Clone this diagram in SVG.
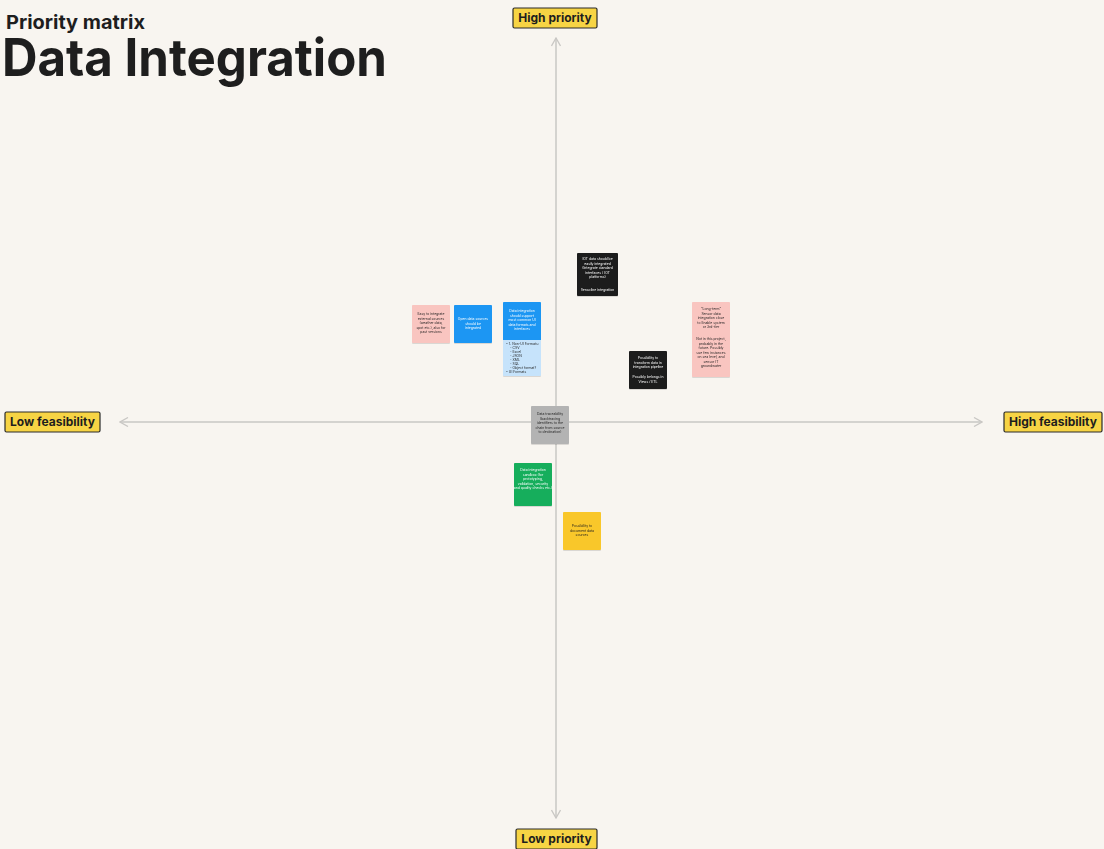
<svg xmlns="http://www.w3.org/2000/svg" width="1104" height="849" viewBox="0 0 1104 849">
<defs>
<style>
.axis{stroke:#c9c7c4;stroke-width:1.5;fill:none}
.lbl rect{fill:#f7d444;stroke:#2a2a2a;stroke-width:1.2}
.lbl text{font-family:Inter,"Liberation Sans",sans-serif;font-weight:700;font-size:12px;fill:#1e1e1e;text-anchor:middle}
.note text{font-family:Inter,"Liberation Sans",sans-serif;font-size:3.4px;text-anchor:middle}
.note text.l{text-anchor:start}
.dk text{fill:#1e1e1e}
.lt text{fill:#ffffff}
</style>
<marker id="arr" viewBox="0 0 10 10" refX="9" refY="5" markerWidth="10" markerHeight="10" markerUnits="userSpaceOnUse" orient="auto-start-reverse">
<path d="M1,0.5 L9,5 L1,9.5" fill="none" stroke="#c9c7c4" stroke-width="1.3"/>
</marker>
<filter id="sh" x="-10%" y="-10%" width="130%" height="140%"><feDropShadow dx="0" dy="0.6" stdDeviation="0.6" flood-opacity="0.2"/></filter>
</defs>
<rect width="1104" height="849" fill="#f8f5f0"/>
<g id="title">
<text x="6" y="29" font-family="Inter,'Liberation Sans',sans-serif" font-weight="700" font-size="19" fill="#1e1e1e" textLength="139" lengthAdjust="spacingAndGlyphs">Priority matrix</text>
<text x="2" y="76" font-family="Inter,'Liberation Sans',sans-serif" font-weight="700" font-size="52" fill="#1e1e1e" textLength="385" lengthAdjust="spacingAndGlyphs">Data Integration</text>
</g>
<g id="connectors">
<line class="axis" x1="556" y1="818" x2="556" y2="38" marker-start="url(#arr)" marker-end="url(#arr)"/>
<line class="axis" x1="120" y1="422" x2="982" y2="422" marker-start="url(#arr)" marker-end="url(#arr)"/>
</g>
<g id="label-high-priority" class="lbl"><rect x="513" y="8" width="84" height="20" rx="1.5"/><text x="555" y="22.3">High priority</text></g>
<g id="label-low-priority" class="lbl"><rect x="516" y="829" width="81" height="20" rx="1.5"/><text x="556.5" y="843.3">Low priority</text></g>
<g id="label-low-feasibility" class="lbl"><rect x="5" y="412" width="95" height="20" rx="1.5"/><text x="52.5" y="426.3">Low feasibility</text></g>
<g id="label-high-feasibility" class="lbl"><rect x="1004" y="412" width="98" height="20" rx="1.5"/><text x="1053" y="426.3">High feasibility</text></g>

<g id="note-external-sources" class="note dk" filter="url(#sh)">
<rect x="412" y="305" width="38" height="38" rx="1" fill="#f9c5c0"/>
<text x="431" y="315">Easy to integrate</text><text x="431" y="319.5">external sources</text><text x="431" y="324">(weather data,</text><text x="431" y="328.5">spot etc.), also for</text><text x="431" y="333">past versions</text>
</g>
<g id="note-open-data" class="note lt" filter="url(#sh)">
<rect x="454" y="305" width="38" height="38" rx="1" fill="#1b96f3"/>
<text x="473" y="320">Open data sources</text><text x="473" y="324.5">should be</text><text x="473" y="329">integrated</text>
</g>
<g id="note-data-formats" class="note" filter="url(#sh)">
<rect x="503" y="302" width="38" height="74" rx="1" fill="#c6e3fb"/>
<rect x="503" y="302" width="38" height="38" rx="1" fill="#1b96f3"/>
<rect x="503" y="336" width="38" height="4" fill="#1b96f3"/>
<g fill="#ffffff"><text x="522" y="312">Data integration</text><text x="522" y="316.5">should support</text><text x="522" y="321">most common UI</text><text x="522" y="325.5">data formats and</text><text x="522" y="330">interfaces</text></g>
<g fill="#1e1e1e"><text class="l" x="506" y="345">• 1. Non-UI Formats:</text><text class="l" x="510" y="349">- CSV</text><text class="l" x="510" y="353">- Excel</text><text class="l" x="510" y="357">- JSON</text><text class="l" x="510" y="361">- XML</text><text class="l" x="510" y="365">- SQL</text><text class="l" x="510" y="369">- Object format?</text><text class="l" x="506" y="373">• UI Formats</text></g>
</g>
<g id="note-iot" class="note lt" filter="url(#sh)">
<rect x="577" y="253" width="41" height="43" rx="1" fill="#1e1e1e"/>
<text x="597.5" y="260">IOT data should be</text><text x="597.5" y="264.5">easily integrated</text><text x="597.5" y="269">(Integrate standard</text><text x="597.5" y="273.5">interfaces / IOT</text><text x="597.5" y="278">platforms)</text><text x="597.5" y="291">Sensoline integration</text>
</g>
<g id="note-transform" class="note lt" filter="url(#sh)">
<rect x="629" y="351" width="38" height="38" rx="1" fill="#1e1e1e"/>
<text x="648" y="359">Possibility to</text><text x="648" y="363.5">transform data in</text><text x="648" y="368">integration pipeline</text><text x="648" y="378">Possibly belongs in</text><text x="648" y="382.5">Views / ETL</text>
</g>
<g id="note-long-term" class="note dk" filter="url(#sh)">
<rect x="692" y="302" width="38" height="75" rx="1" fill="#f9c5c0"/>
<text x="711" y="310">"Long-term"</text><text x="711" y="314.5">Sensor data</text><text x="711" y="319">integration close</text><text x="711" y="323.5">to Enable system</text><text x="711" y="328">or 3rd-tier</text><text x="711" y="340">Not in this project,</text><text x="711" y="344.5">probably in the</text><text x="711" y="349">future. Possibly</text><text x="711" y="353.5">use few instances</text><text x="711" y="358">on sea level, and</text><text x="711" y="362.5">sensor IT</text><text x="711" y="367">groundwater</text>
</g>
<g id="note-traceability" class="note dk" filter="url(#sh)">
<rect x="531" y="406" width="38" height="38" rx="1" fill="#b3b3b3"/>
<text x="550" y="415">Data traceability</text><text x="550" y="419.5">(backtracing</text><text x="550" y="424">identifiers to the</text><text x="550" y="428.5">chain from source</text><text x="550" y="433">to destination)</text>
</g>
<g id="note-sandbox" class="note lt" filter="url(#sh)">
<rect x="514" y="463" width="38" height="43" rx="1" fill="#14ae5c"/>
<text x="533" y="471">Data integration</text><text x="533" y="475.5">sandbox (for</text><text x="533" y="480">prototyping,</text><text x="533" y="484.5">validation, security</text><text x="533" y="489">and quality checks etc.)</text>
</g>
<g id="note-document" class="note dk" filter="url(#sh)">
<rect x="563" y="512" width="38" height="38" rx="1" fill="#f9c72b"/>
<text x="582" y="527">Possibility to</text><text x="582" y="531.5">document data</text><text x="582" y="536">sources</text>
</g>
</svg>
